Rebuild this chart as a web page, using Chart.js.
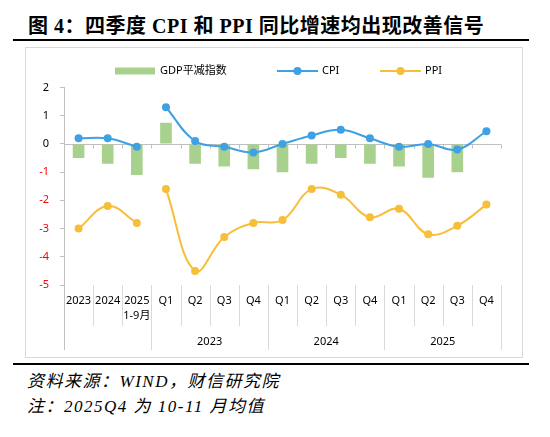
<!DOCTYPE html>
<html>
<head>
<meta charset="utf-8">
<script src="https://cdn.jsdelivr.net/npm/chart.js@4.4.1/dist/chart.umd.min.js"></script>
<style>
  body { margin: 0; width: 550px; height: 437px; background: #fff; position: relative; overflow: hidden; }
  .title { position: absolute; left: 28px; top: 14px; font: bold 20px "Liberation Serif", "Noto Sans CJK SC", serif; letter-spacing: 0.5px; line-height: 24px; white-space: nowrap; color: #000; }
  .rule { position: absolute; left: 13px; width: 516px; height: 2px; background: #000; }
  .box { position: absolute; left: 25px; top: 47px; width: 498px; height: 311px; box-sizing: border-box; border: 1px solid #d9d9d9; }
  #chart { position: absolute; left: 25px; top: 47px; }
  .note { position: absolute; left: 27px; font: italic 17px "Liberation Serif", "Noto Sans CJK SC", serif; letter-spacing: 1.5px; line-height: 20px; white-space: nowrap; color: #000; }
</style>
</head>
<body>
<div class="title">图 4：四季度 CPI 和 PPI 同比增速均出现改善信号</div>
<div class="rule" style="top:39px"></div>
<div class="box"></div>
<canvas id="chart" width="498" height="311"></canvas>
<div class="rule" style="top:363px"></div>
<div class="note" style="top:372px">资料来源：WIND，财信研究院</div>
<div class="note" style="top:397px">注：2025Q4 为 10-11 月均值</div>

<script>
const categories = [['2023'], ['2024'], ['2025', '1-9月'], 'Q1', 'Q2', 'Q3', 'Q4', 'Q1', 'Q2', 'Q3', 'Q4', 'Q1', 'Q2', 'Q3', 'Q4'];
const yearGroups = ['2023', '2024', '2025'];
const annualCount = 3;
const gdpDeflator = [-0.5, -0.7, -1.1, 0.75, -0.7, -0.8, -0.9, -1.0, -0.7, -0.5, -0.7, -0.8, -1.2, -1.0, null];
const cpi = [0.2, 0.2, -0.1, 1.3, 0.1, -0.1, -0.3, 0.0, 0.3, 0.5, 0.2, -0.1, 0.0, -0.2, 0.45];
const ppi = [-3.0, -2.2, -2.8, -1.6, -4.5, -3.3, -2.8, -2.7, -1.6, -1.8, -2.6, -2.3, -3.2, -2.9, -2.15];
const yTicks = [2, 1, 0, -1, -2, -3, -4, -5];

const GREEN = '#A9D18E';
const BLUE = '#3FA0E4';
const YELLOW = '#F7BE38';
const FONT = "'Noto Sans', 'Noto Sans CJK SC', sans-serif";

// annual points and quarterly points are separate runs of the same line
const part = (arr, annual) => arr.map((v, i) => ((i < annualCount) === annual ? v : null));

const lineSet = (label, data, color) => ({
  type: 'line',
  label,
  data,
  order: 0,
  borderColor: color,
  backgroundColor: color,
  borderWidth: 2,
  pointRadius: 4,
  pointBorderWidth: 0,
  pointHoverRadius: 4,
  tension: 0.4,
  spanGaps: false,
});

const axisDecor = {
  id: 'axisDecor',
  beforeDatasetsDraw(chart) {
    const { ctx, scales: { x, y } } = chart;
    const w = (x.right - x.left) / categories.length;
    const zero = Math.round(y.getPixelForValue(0)) + 0.5;
    ctx.save();
    ctx.strokeStyle = '#bfbfbf';
    ctx.lineWidth = 1;
    ctx.beginPath();
    ctx.moveTo(x.left, zero);
    ctx.lineTo(x.right, zero);
    for (let i = 1; i <= categories.length; i++) {
      const bx = Math.round(x.left + i * w) + 0.5;
      ctx.moveTo(bx, zero);
      ctx.lineTo(bx, zero + 4);
    }
    ctx.stroke();
    ctx.restore();
  },
  afterDraw(chart) {
    const { ctx, scales: { x, y } } = chart;
    const w = (x.right - x.left) / categories.length;
    const top = x.top;
    ctx.save();
    ctx.lineWidth = 1;
    // category dividers under the plot
    ctx.strokeStyle = '#d9d9d9';
    ctx.beginPath();
    for (let i = 1; i <= categories.length; i++) {
      const bx = Math.round(x.left + i * w) + 0.5;
      const group = i === annualCount || (i - annualCount) % 4 === 0;
      ctx.moveTo(bx, top);
      ctx.lineTo(bx, top + (group ? 65 : 41));
    }
    ctx.stroke();
    // y axis runs down through the label area
    ctx.strokeStyle = '#bfbfbf';
    ctx.beginPath();
    ctx.moveTo(Math.round(y.right) + 0.5, y.bottom);
    ctx.lineTo(Math.round(y.right) + 0.5, top + 65);
    ctx.stroke();
    // year labels under the quarters
    ctx.fillStyle = '#000';
    ctx.font = '11px ' + FONT;
    ctx.textAlign = 'center';
    ctx.textBaseline = 'middle';
    yearGroups.forEach((yr, g) => {
      const a = annualCount + g * 4;
      const cx = (x.getPixelForValue(a) + x.getPixelForValue(a + 3)) / 2;
      ctx.fillText(yr, cx, top + 57);
    });
    // legend
    const ly = 24;
    ctx.textAlign = 'left';
    ctx.fillStyle = GREEN;
    ctx.fillRect(90, ly - 3.5, 40, 7);
    ctx.fillStyle = '#000';
    ctx.fillText('GDP平减指数', 135, ly);
    [[252, 'CPI', BLUE], [355, 'PPI', YELLOW]].forEach(([lx, txt, col]) => {
      ctx.strokeStyle = col;
      ctx.lineWidth = 2;
      ctx.beginPath();
      ctx.moveTo(lx, ly);
      ctx.lineTo(lx + 41, ly);
      ctx.stroke();
      ctx.fillStyle = col;
      ctx.beginPath();
      ctx.arc(lx + 20.5, ly, 4, 0, Math.PI * 2);
      ctx.fill();
      ctx.fillStyle = '#000';
      ctx.fillText(txt, lx + 45, ly);
    });
    ctx.restore();
  }
};

new Chart(document.getElementById('chart'), {
  type: 'bar',
  plugins: [axisDecor],
  data: {
    labels: categories,
    datasets: [
      {
        label: 'GDP平减指数',
        data: gdpDeflator,
        order: 1,
        backgroundColor: GREEN,
        borderWidth: 0,
        barPercentage: 0.4,
        categoryPercentage: 1,
      },
      lineSet('CPI', part(cpi, true), BLUE),
      lineSet('CPI', part(cpi, false), BLUE),
      lineSet('PPI', part(ppi, true), YELLOW),
      lineSet('PPI', part(ppi, false), YELLOW),
    ],
  },
  options: {
    responsive: false,
    animation: false,
    layout: { padding: { top: 40.5, right: 22, bottom: 0, left: 0 } },
    plugins: {
      legend: { display: false },
      tooltip: { enabled: false },
    },
    scales: {
      x: {
        afterFit: (s) => { s.height = 73; },
        grid: { display: false, drawTicks: false },
        border: { display: false },
        ticks: {
          autoSkip: false,
          maxRotation: 0,
          padding: 8,
          color: '#000',
          font: { family: FONT, size: 11, lineHeight: 1.4 },
        },
      },
      y: {
        min: -5,
        max: 2,
        afterFit: (s) => { s.width = 39; },
        afterBuildTicks: (s) => { s.ticks = yTicks.map((v) => ({ value: v })); },
        grid: { drawOnChartArea: false, tickLength: 4, color: '#bfbfbf' },
        border: { display: true, color: '#bfbfbf' },
        ticks: {
          padding: 11,
          color: (c) => (c.tick.value < 0 ? '#FF0000' : '#000000'),
          font: { family: FONT, size: 11 },
        },
      },
    },
  },
});
</script>
</body>
</html>
